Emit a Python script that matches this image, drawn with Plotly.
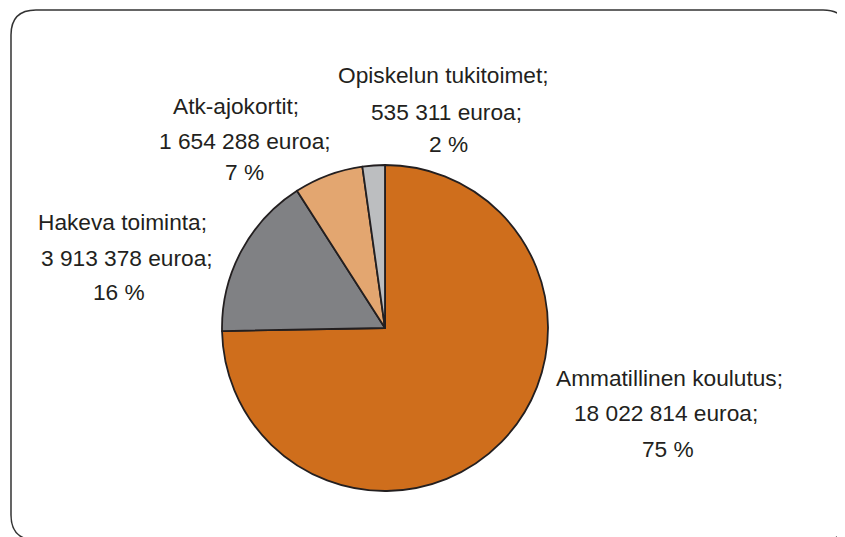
import plotly.graph_objects as go

labels = ["Ammatillinen koulutus", "Hakeva toiminta", "Atk-ajokortit", "Opiskelun tukitoimet"]
values = [18022814, 3913378, 1654288, 535311]
colors = ["#CF6E1C", "#808184", "#E3A670", "#BCBEC0"]

OFF = 8  # page body margin offset
W, H = 845 - OFF, 537 - OFF  # figure fits the window without scrollbars
total = sum(values)

def fmt(v):
    return f"{v:,}".replace(",", " ")

# label line pixel positions in the screenshot (x center per line, y center per line)
label_pos = {
    "Ammatillinen koulutus": [(669, 378), (666, 413), (668, 449)],
    "Hakeva toiminta": [(122, 222), (127, 258), (119, 292)],
    "Atk-ajokortit": [(236, 106), (245, 141), (244, 172)],
    "Opiskelun tukitoimet": [(443, 75), (446, 112), (448, 144)],
}

def px_x(x):
    return (x - OFF) / W

def px_y(y):
    return 1 - (y - OFF) / H

fig = go.Figure()
cx, cy, r = 385, 328, 163
fig.add_trace(go.Pie(
    labels=labels, values=values, sort=False, direction="clockwise", rotation=0,
    marker=dict(colors=colors, line=dict(color="#231F20", width=1.8)),
    textinfo="none", hoverinfo="skip", showlegend=False,
    domain=dict(x=[px_x(cx - r), px_x(cx + r)], y=[px_y(cy + r), px_y(cy - r)]),
))

anns = []
for lab, val in zip(labels, values):
    pct = round(val / total * 100)
    lines = [f"{lab};", f"{fmt(val)} euroa;", f"{pct} %"]
    for (px, py), t in zip(label_pos[lab], lines):
        anns.append(dict(x=px_x(px), y=px_y(py), xref="paper", yref="paper",
                         text=t, showarrow=False, xanchor="center", yanchor="middle",
                         font=dict(family="Liberation Sans, Arial, sans-serif", size=22.7, color="#231F20")))

# rounded border
L, T, R, B, rad = 11, 10, 848, 540, 25
def p(x, y):
    return f"{px_x(x):.5f},{px_y(y):.5f}"
path = (f"M {p(L + rad, T)} L {p(R - rad, T)} Q {p(R, T)} {p(R, T + rad)} "
        f"L {p(R, B - rad)} Q {p(R, B)} {p(R - rad, B)} L {p(L + rad, B)} "
        f"Q {p(L, B)} {p(L, B - rad)} L {p(L, T + rad)} Q {p(L, T)} {p(L + rad, T)} Z")

fig.update_layout(
    width=W, height=H, margin=dict(l=0, r=0, t=0, b=0),
    paper_bgcolor="white", plot_bgcolor="white",
    annotations=anns,
    shapes=[dict(type="path", xref="paper", yref="paper", path=path,
                 line=dict(color="#333333", width=1.5), fillcolor="rgba(0,0,0,0)")],
)
fig.write_html("out.html")
